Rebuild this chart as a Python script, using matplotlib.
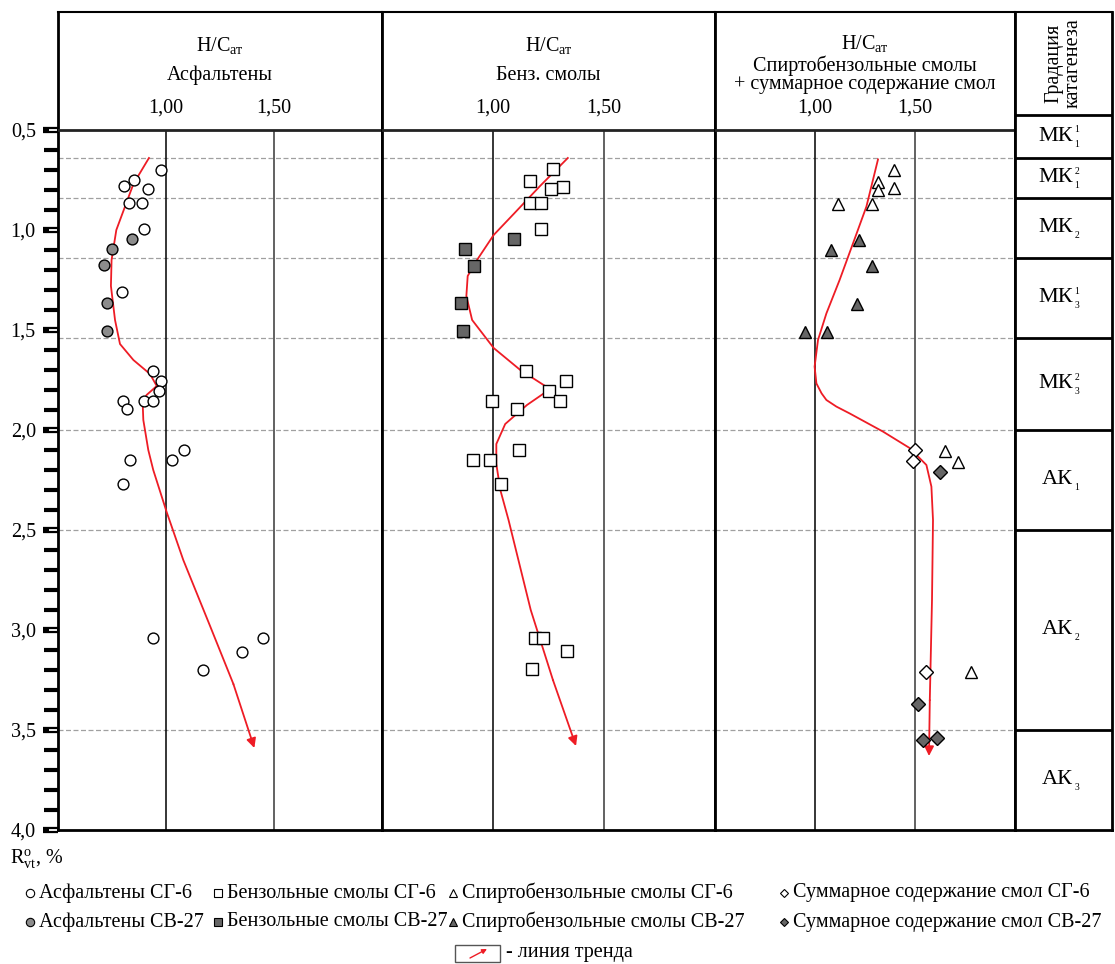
import matplotlib.pyplot as plt
from matplotlib.patches import Rectangle
from matplotlib.transforms import offset_copy

plt.rcParams['font.family'] = ['Liberation Serif', 'DejaVu Serif']
plt.rcParams['mathtext.fontset'] = 'custom'
plt.rcParams['mathtext.rm'] = 'Liberation Serif'
plt.rcParams['mathtext.it'] = 'Liberation Serif:italic'

# --- H/C atomic ratio vs vitrinite reflectance R (%) ---
asph_sg6_x = [0.975, 0.85, 0.807, 0.915, 0.83, 0.887, 0.90, 0.798, 0.941, 0.977, 0.966,
              0.802, 0.898, 0.94, 0.821, 1.082, 1.028, 0.833, 0.801, 0.941, 1.17, 1.352, 1.449]
asph_sg6_r = [0.70, 0.75, 0.78, 0.795, 0.865, 0.865, 0.995, 1.31, 1.705, 1.755, 1.805,
              1.855, 1.855, 1.855, 1.895, 2.10, 2.15, 2.15, 2.27, 3.04, 3.20, 3.11, 3.04]
asph_sv27_x = [0.843, 0.748, 0.713, 0.728, 0.725]
asph_sv27_r = [1.045, 1.095, 1.175, 1.365, 1.505]

benz_sg6_x = [1.272, 1.166, 1.314, 1.262, 1.166, 1.218, 1.214, 1.148, 1.329, 1.252, 1.301,
              0.997, 1.106, 1.117, 0.91, 0.986, 1.034, 1.19, 1.226, 1.334, 1.177]
benz_sg6_r = [0.695, 0.755, 0.785, 0.795, 0.865, 0.865, 0.995, 1.705, 1.755, 1.805, 1.855,
              1.855, 1.895, 2.10, 2.15, 2.15, 2.27, 3.04, 3.04, 3.105, 3.195]
benz_sv27_x = [1.093, 0.876, 0.913, 0.858, 0.865]
benz_sv27_r = [1.045, 1.095, 1.18, 1.365, 1.505]

spirt_sg6_x = [1.394, 1.317, 1.317, 1.394, 1.117, 1.285, 1.649, 1.717, 1.782]
spirt_sg6_r = [0.70, 0.76, 0.80, 0.79, 0.87, 0.87, 2.105, 2.16, 3.21]
spirt_sv27_x = [1.22, 1.082, 1.285, 1.208, 0.948, 1.062]
spirt_sv27_r = [1.05, 1.10, 1.18, 1.37, 1.51, 1.51]

sum_sg6_x = [1.499, 1.49, 1.557]
sum_sg6_r = [2.10, 2.155, 3.21]
sum_sv27_x = [1.627, 1.515, 1.54, 1.608]
sum_sv27_r = [2.21, 3.37, 3.55, 3.54]

# trend lines (hand-fitted)
trend1_x = [0.921, 0.849, 0.77, 0.748, 0.745, 0.764, 0.787, 0.849, 0.926, 0.957, 0.91,
            0.892, 0.895, 0.918, 0.941, 1.003, 1.08, 1.204, 1.312, 1.409]
trend1_r = [0.64, 0.77, 1.0, 1.15, 1.28, 1.45, 1.57, 1.65, 1.72, 1.78, 1.825,
            1.867, 1.95, 2.1, 2.2, 2.41, 2.65, 2.98, 3.27, 3.59]
trend2_x = [1.337, 1.212, 1.093, 1.003, 0.928, 0.886, 0.88, 0.906, 1.003, 1.123, 1.235,
            1.238, 1.153, 1.055, 1.015, 1.015, 1.033, 1.07, 1.17, 1.27, 1.374]
trend2_r = [0.64, 0.78, 0.92, 1.025, 1.15, 1.23, 1.33, 1.45, 1.59, 1.70, 1.78,
            1.81, 1.875, 1.97, 2.07, 2.17, 2.30, 2.45, 2.90, 3.25, 3.58]
trend3_x = [1.315, 1.257, 1.19, 1.123, 1.057, 1.015, 0.998, 1.007, 1.033, 1.057, 1.107,
            1.173, 1.34, 1.473, 1.557, 1.582, 1.59, 1.585, 1.574, 1.57]
trend3_r = [0.647, 0.883, 1.067, 1.25, 1.417, 1.55, 1.683, 1.767, 1.817, 1.85, 1.883,
            1.917, 2.008, 2.09, 2.175, 2.283, 2.45, 2.85, 3.35, 3.63]

# catagenesis gradation zones: base, upper index, lower index
zone_bounds = [0.425, 0.64, 0.84, 1.14, 1.54, 2.0, 2.5, 3.5, 4.0]
zone_base = ['МК', 'МК', 'МК', 'МК', 'МК', 'АК', 'АК', 'АК']
zone_sup = ['1', '2', '', '1', '2', '', '', '']
zone_sub = ['1', '1', '2', '3', '3', '1', '2', '3']
dash_levels = [0.64, 0.84, 1.14, 1.54, 2.0, 2.5, 3.5]

y_major = [0.5, 1.0, 1.5, 2.0, 2.5, 3.0, 3.5, 4.0]
y_labels = ['0,5', '1,0', '1,5', '2,0', '2,5', '3,0', '3,5', '4,0']

RED = '#ee1c25'
GRAY_C = '#8c8c8c'
GRAY_D = '#666666'
FS = 14.5

W, H = 1115, 964
R_TOP = -0.09
fig = plt.figure(figsize=(W / 100, H / 100), dpi=100)


def box(l, r, t=12, b=830):
    return [l / W, 1 - b / H, (r - l) / W, (b - t) / H]


def setup_panel(ax, titles, title_y):
    ax.set_xlim(0.5, 2.0)
    ax.set_ylim(4.0, R_TOP)
    ax.set_xticks([])
    ax.set_yticks([])
    for s in ['left', 'right', 'bottom']:
        ax.spines[s].set_linewidth(2)
    ax.spines['top'].set_linewidth(1.5)
    ax.axhline(0.5, color='#222222', lw=2, zorder=3)
    for lv in dash_levels:
        ax.axhline(lv, color='#a0a0a0', lw=0.9, ls=(0, (4, 2)), zorder=1)
    ax.vlines([1.0], 0.5, 4.0, color='black', lw=1.1, zorder=1)
    ax.vlines([1.5], 0.5, 4.0, color='#555555', lw=1.3, zorder=1)
    tr = ax.get_yaxis_transform()
    for t, yy in zip(titles, title_y):
        ax.text(0.5, yy, t, transform=tr, ha='center', va='center', fontsize=FS)
    ax.text(1.0, 0.39, '1,00', ha='center', va='center', fontsize=FS)
    ax.text(1.5, 0.39, '1,50', ha='center', va='center', fontsize=FS)


def trend(ax, xs, rs):
    ax.plot(xs[:-1], rs[:-1], color=RED, lw=1.3, zorder=4)
    ax.annotate('', xy=(xs[-1], rs[-1]), xytext=(xs[-2], rs[-2]),
                arrowprops=dict(arrowstyle='-|>', color=RED, lw=1.3,
                                mutation_scale=14, shrinkA=0, shrinkB=0), zorder=4)


HC = 'H/C$_{\\mathrm{ат}}$'

ax1 = fig.add_axes(box(58, 382))
setup_panel(ax1, [HC, 'Асфальтены'], [0.075, 0.225])
ax2 = fig.add_axes(box(382, 715))
setup_panel(ax2, [HC, 'Бенз. смолы'], [0.075, 0.225])
ax3 = fig.add_axes(box(715, 1015))
setup_panel(ax3, [HC, 'Спиртобензольные смолы', '+ суммарное содержание смол'],
            [0.065, 0.18, 0.272])

# reflectance axis on the left panel
ax1.set_yticks(y_major)
ax1.set_yticklabels(y_labels, fontsize=FS)
ax1.set_yticks([v / 10 for v in range(5, 41) if v % 5], minor=True)
ax1.tick_params(axis='y', which='major', length=11, width=4.5, pad=5)
ax1.tick_params(axis='y', which='minor', length=10, width=3)
tick_tr = offset_copy(ax1.get_yaxis_transform(), fig=fig, x=-5.5, y=0, units='dots')
ax1.plot([0] * len(y_major), y_major, ls='none', marker='_', ms=6, mew=1.3,
         color='white', transform=tick_tr, clip_on=False, zorder=6)

mk = dict(ls='none', mec='black', mew=1.0, zorder=5)
ax1.plot(asph_sg6_x, asph_sg6_r, marker='o', ms=7.8, mfc='white', **mk)
ax1.plot(asph_sv27_x, asph_sv27_r, marker='o', ms=7.8, mfc=GRAY_C, **mk)
trend(ax1, trend1_x, trend1_r)

ax2.plot(benz_sg6_x, benz_sg6_r, marker='s', ms=8.4, mfc='white', **mk)
ax2.plot(benz_sv27_x, benz_sv27_r, marker='s', ms=8.4, mfc=GRAY_D, **mk)
trend(ax2, trend2_x, trend2_r)

ax3.plot(spirt_sg6_x, spirt_sg6_r, marker='^', ms=9.2, mfc='white', **mk)
ax3.plot(spirt_sv27_x, spirt_sv27_r, marker='^', ms=9.2, mfc=GRAY_D, **mk)
ax3.plot(sum_sg6_x, sum_sg6_r, marker='D', ms=7.5, mfc='white', **mk)
ax3.plot(sum_sv27_x, sum_sv27_r, marker='D', ms=7.5, mfc=GRAY_D, **mk)
trend(ax3, trend3_x, trend3_r)

# gradation column
axg = fig.add_axes(box(1015, 1112))
axg.set_xlim(0, 1)
axg.set_ylim(4.0, R_TOP)
axg.set_xticks([])
axg.set_yticks([])
for s in axg.spines.values():
    s.set_linewidth(2)
axg.spines['top'].set_linewidth(1.5)
for lv in zone_bounds[:-1]:
    axg.axhline(lv, color='black', lw=2)
gtr = axg.get_yaxis_transform()
sup_tr = offset_copy(gtr, fig=fig, x=0, y=7, units='dots')
sub_tr = offset_copy(gtr, fig=fig, x=0, y=-8, units='dots')
for top, bot, base, sup, sub in zip(zone_bounds[:-1], zone_bounds[1:],
                                    zone_base, zone_sup, zone_sub):
    mid = (top + bot) / 2
    axg.text(0.6, mid, base, transform=gtr, ha='right', va='center', fontsize=FS + 1.5)
    if sup:
        axg.text(0.615, mid, sup, transform=sup_tr, ha='left', va='center', fontsize=7)
    axg.text(0.615, mid, sub, transform=sub_tr, ha='left', va='center', fontsize=7)
axg.text(0.5, 0.165, 'Градация\nкатагенеза', rotation=90, ha='center', va='center',
         fontsize=FS, linespacing=0.95)

# legend and axis caption, laid out in pixel coordinates
ov = fig.add_axes([0, 0, 1, 1])
ov.set_xlim(0, W)
ov.set_ylim(H, 0)
ov.axis('off')
ov.text(10, 858, 'R$^{\\mathrm{o}}_{\\mathrm{vt}}$, %', fontsize=FS, ha='left', va='center')

leg_items = [
    (30, 893, 'o', 'white', 'Асфальтены СГ-6'),
    (218, 893, 's', 'white', 'Бензольные смолы СГ-6'),
    (453, 893, '^', 'white', 'Спиртобензольные смолы СГ-6'),
    (784, 893, 'D', 'white', 'Суммарное содержание смол СГ-6'),
    (30, 922, 'o', GRAY_C, 'Асфальтены СВ-27'),
    (218, 922, 's', GRAY_D, 'Бензольные смолы СВ-27'),
    (453, 922, '^', GRAY_D, 'Спиртобензольные смолы СВ-27'),
    (784, 922, 'D', GRAY_D, 'Суммарное содержание смол СВ-27'),
]
for x, y, m, fc, lab in leg_items:
    ms = 4.5 if m == 'D' else 6
    ov.plot([x], [y], marker=m, ms=ms, mfc=fc, mec='black', mew=0.8, ls='none')
    ov.text(x + 9, y, lab, fontsize=FS, ha='left', va='center')

ov.add_patch(Rectangle((455, 945), 45, 17, fill=False, ec='#555555', lw=1))
ov.annotate('', xy=(487, 949), xytext=(470, 958),
            arrowprops=dict(arrowstyle='-|>', color=RED, lw=1, mutation_scale=7,
                            shrinkA=0, shrinkB=0))
ov.text(506, 953, '- линия тренда', fontsize=FS, ha='left', va='center')

fig.savefig('out.png', dpi=100)
